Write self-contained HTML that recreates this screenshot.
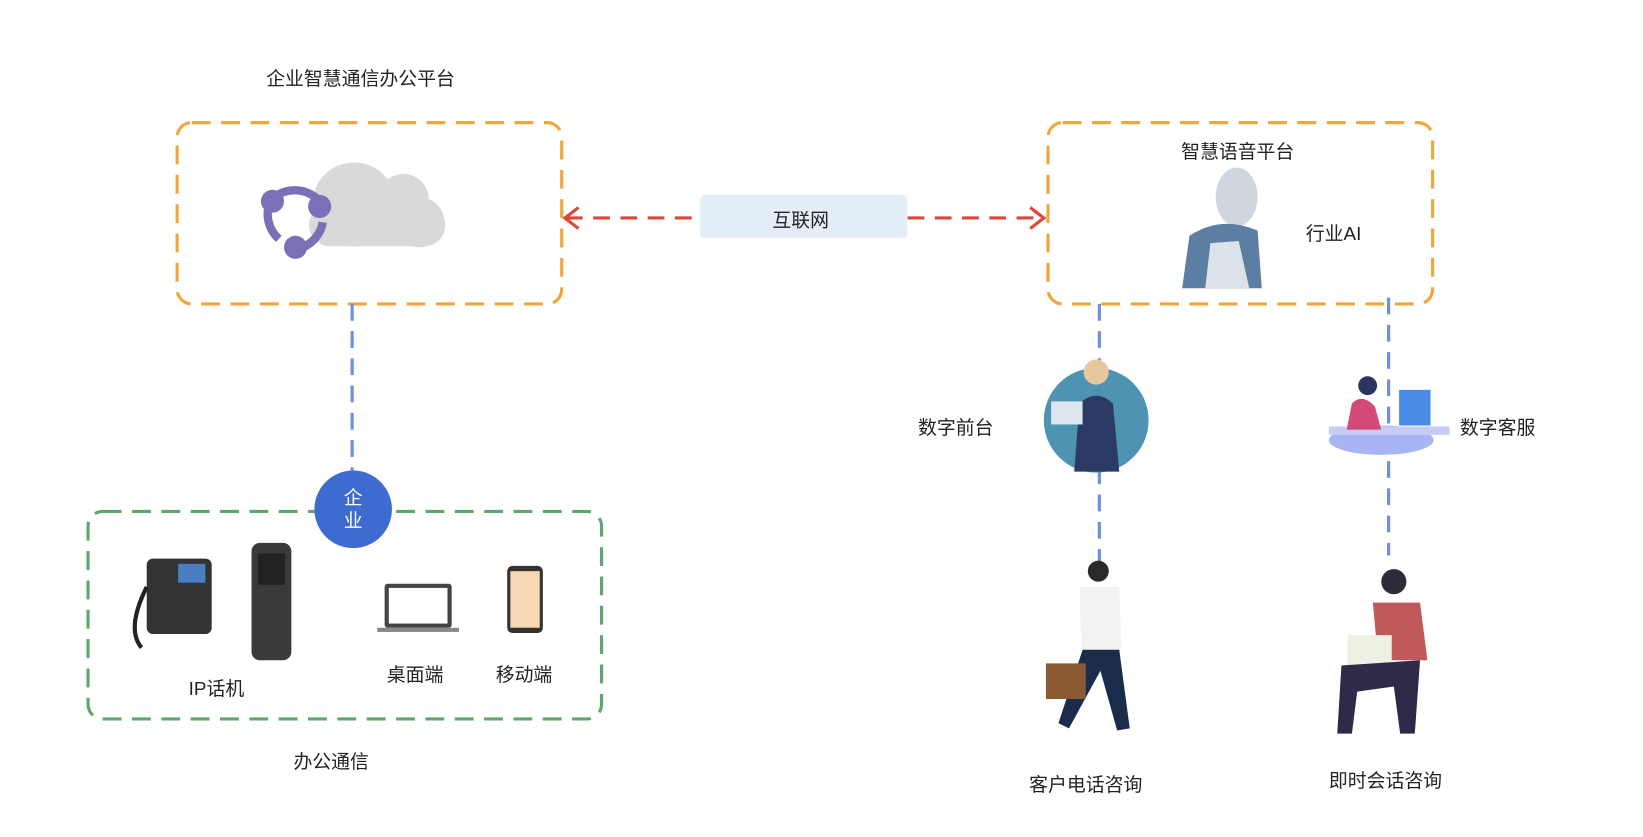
<!DOCTYPE html>
<html><head><meta charset="utf-8"><style>
html,body{margin:0;width:1643px;height:837px;background:#fff;overflow:hidden}
#w{position:absolute;left:0;top:0;width:1560px;height:795px;transform:scale(1.048);transform-origin:0 0;font-family:"Liberation Sans","Noto Sans CJK SC",sans-serif;color:#222}
.t{position:absolute;font-size:18px;white-space:nowrap}
svg{position:absolute;left:0;top:0}
</style></head><body><div id="w">
<svg width="1560" height="795" viewBox="0 0 1560 795">
<rect x="169" y="117" width="367" height="173" rx="14" fill="none" stroke="#f0a73a" stroke-width="3" stroke-dasharray="18 10"/>
<rect x="1000" y="117" width="367" height="173" rx="14" fill="none" stroke="#f0a73a" stroke-width="3" stroke-dasharray="18 10"/>
<rect x="84" y="488" width="490" height="198" rx="14" fill="none" stroke="#5ea86e" stroke-width="3" stroke-dasharray="18 10"/>
<line x1="336" y1="290" x2="336" y2="450" stroke="#6a8fe0" stroke-width="3" stroke-dasharray="16 10"/>
<line x1="1049" y1="290" x2="1049" y2="540" stroke="#6a8fe0" stroke-width="3" stroke-dasharray="16 10"/>
<line x1="1325" y1="284" x2="1325" y2="530" stroke="#6a8fe0" stroke-width="3" stroke-dasharray="16 10"/>
<line x1="540" y1="208" x2="668" y2="208" stroke="#e0453a" stroke-width="3" stroke-dasharray="16 10"/>
<line x1="866" y1="208" x2="994" y2="208" stroke="#e0453a" stroke-width="3" stroke-dasharray="16 10"/>
<polyline points="552,198 539,208 552,218" fill="none" stroke="#e0453a" stroke-width="3"/>
<polyline points="983,198 996,208 983,218" fill="none" stroke="#e0453a" stroke-width="3"/>
<rect x="668" y="186" width="198" height="41" rx="4" fill="#e3eef8"/>
<g fill="#d9d9d9"><circle cx="338" cy="195" r="40"/><circle cx="385" cy="190" r="24"/><circle cx="400" cy="212" r="24"/><rect x="295" y="195" width="130" height="40" rx="20"/></g>
<g fill="none" stroke="#7b6fb8" stroke-width="8"><path d="M262 188 A32 32 0 0 1 308 196"/><path d="M308 212 A32 32 0 0 1 282 238"/><path d="M266 228 A32 32 0 0 1 256 198"/></g>
<g fill="#7b6fb8"><circle cx="260" cy="192" r="11"/><circle cx="305" cy="197" r="11"/><circle cx="282" cy="236" r="11"/></g>
<g><ellipse cx="1180" cy="188" rx="20" ry="28" fill="#cfd6de"/><path d="M1128 275 L1135 225 Q1165 205 1200 220 L1204 275 Z" fill="#5d7ea3"/><path d="M1150 275 L1155 232 L1182 230 L1192 275Z" fill="#dce2ea"/></g>
<circle cx="337" cy="486" r="37" fill="#3d6bd0"/>
<rect x="140" y="533" width="62" height="72" rx="6" fill="#333"/><rect x="170" y="538" width="26" height="18" fill="#4a7ec0"/>
<path d="M140 560 Q120 600 135 618" stroke="#222" stroke-width="4" fill="none"/>
<rect x="240" y="518" width="38" height="112" rx="8" fill="#3a3a3a"/><rect x="246" y="528" width="26" height="30" fill="#222"/>
<rect x="367" y="557" width="64" height="42" rx="3" fill="#444"/><rect x="371" y="561" width="56" height="34" fill="#fff"/><rect x="360" y="599" width="78" height="4" fill="#888"/>
<rect x="484" y="540" width="34" height="64" rx="5" fill="#333"/><rect x="487" y="545" width="28" height="54" fill="#f6d8b5"/>
<circle cx="1046" cy="401" r="50" fill="#4e94b2"/>
<path d="M1025 450 L1030 385 Q1046 370 1062 385 L1068 450Z" fill="#2c3a66"/><circle cx="1046" cy="355" r="12" fill="#e8c79c"/><rect x="1003" y="383" width="30" height="22" fill="#dfe5ee"/>
<ellipse cx="1318" cy="420" rx="50" ry="14" fill="#a9b4f2"/><rect x="1268" y="407" width="115" height="8" fill="#c5ccf6"/>
<rect x="1335" y="372" width="30" height="34" fill="#4a8de8"/><path d="M1285 410 L1290 385 Q1300 375 1312 388 L1318 410Z" fill="#d34a7a"/><circle cx="1305" cy="368" r="9" fill="#2c3460"/>
<circle cx="1048" cy="545" r="10" fill="#2a2a2a"/><path d="M1030 560 L1068 560 L1070 620 L1032 620Z" fill="#f2f2f2"/><path d="M1033 620 L1068 620 L1078 695 L1066 697 L1050 640 L1020 695 L1010 690Z" fill="#1b2b4a"/><rect x="998" y="633" width="38" height="34" fill="#8a5a35"/>
<circle cx="1330" cy="555" r="12" fill="#2c2c3a"/><path d="M1310 575 L1355 575 L1362 630 L1315 630Z" fill="#c05a5a"/><rect x="1286" y="606" width="42" height="30" fill="#eef0e4"/><path d="M1280 635 L1355 630 L1350 700 L1336 700 L1330 655 L1295 660 L1290 700 L1276 700Z" fill="#2e2a48"/>
</svg>
<div class="t" style="left:254px;top:61px">企业智慧通信办公平台</div>
<div class="t" style="left:1127px;top:131px">智慧语音平台</div>
<div class="t" style="left:1246px;top:209px">行业AI</div>
<div class="t" style="left:737px;top:196px">互联网</div>
<div class="t" style="left:328px;top:464px;color:#fff;line-height:22px;width:20px;white-space:normal">企业</div>
<div class="t" style="left:180px;top:643px">IP话机</div>
<div class="t" style="left:369px;top:630px">桌面端</div>
<div class="t" style="left:473px;top:630px">移动端</div>
<div class="t" style="left:280px;top:713px">办公通信</div>
<div class="t" style="left:876px;top:394px">数字前台</div>
<div class="t" style="left:1393px;top:394px">数字客服</div>
<div class="t" style="left:982px;top:735px">客户电话咨询</div>
<div class="t" style="left:1268px;top:731px">即时会话咨询</div>
</div></body></html>
